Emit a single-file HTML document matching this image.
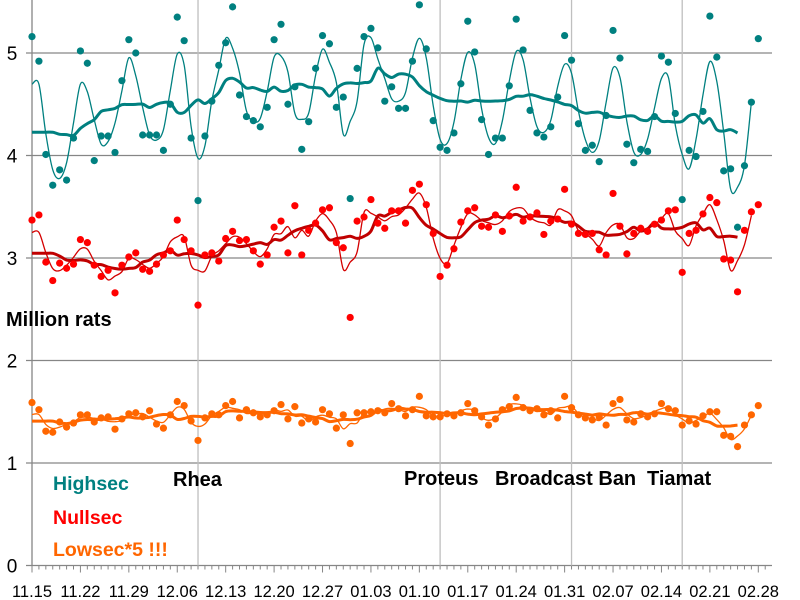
<!DOCTYPE html>
<html><head><meta charset="utf-8"><style>
html,body{margin:0;padding:0;background:#fff;}
svg{display:block;font-family:"Liberation Sans",sans-serif;}
</style></head><body>
<svg id="chart" width="800" height="600" viewBox="0 0 800 600" xmlns="http://www.w3.org/2000/svg">
<g id="grid"></g>
<g id="series"></g>
<g id="labels">
<text x="6" y="326" font-size="20" font-weight="bold" fill="#000">Million rats</text>
<text x="53" y="490" font-size="19.5" font-weight="bold" fill="#008080">Highsec</text>
<text x="53" y="524" font-size="19.5" font-weight="bold" fill="#ff0000">Nullsec</text>
<text x="53" y="556" font-size="19.5" font-weight="bold" fill="#ff6600">Lowsec*5 !!!</text>
<text x="173" y="486" font-size="20" font-weight="bold" fill="#000">Rhea</text>
<text x="404" y="485" font-size="20" font-weight="bold" fill="#000">Proteus</text>
<text x="495" y="485" font-size="20" font-weight="bold" fill="#000">Broadcast Ban</text>
<text x="647" y="485" font-size="20" font-weight="bold" fill="#000">Tiamat</text>
</g>
</svg>
<script>
const weekLabels=["11.15","11.22","11.29","12.06","12.13","12.20","12.27","01.03","01.10","01.17","01.24","01.31","02.07","02.14","02.21","02.28"];
const yTicks=[0,1,2,3,4,5];
const eventDays=[24,59,78,94];
const highsec=[5.16,4.92,4.01,3.71,3.86,3.76,4.17,5.02,4.90,3.95,4.19,4.19,4.03,4.73,5.13,5.00,4.20,4.20,4.20,4.05,4.50,5.35,5.12,4.17,3.56,4.19,4.53,4.88,5.10,5.45,4.59,4.38,4.34,4.28,4.47,5.13,5.28,4.50,4.67,4.06,4.33,4.85,5.17,5.09,4.47,4.57,3.58,4.85,5.16,5.24,5.05,4.53,4.67,4.46,4.46,4.92,5.47,5.04,4.34,4.08,4.05,4.22,4.70,5.31,5.01,4.35,4.01,4.17,4.17,4.68,5.33,5.03,4.44,4.22,4.18,4.28,4.57,5.17,4.93,4.31,4.05,4.10,3.94,4.39,5.22,4.95,4.11,3.93,4.06,4.04,4.38,4.97,4.91,4.41,3.57,4.05,3.99,4.43,5.36,4.96,3.85,3.87,3.30,3.90,4.52,5.14];
const nullsec=[3.37,3.42,2.96,2.78,2.95,2.90,2.94,3.18,3.15,2.93,2.82,2.88,2.66,2.93,3.01,3.05,2.89,2.87,2.94,3.03,3.07,3.37,3.18,3.07,2.54,3.03,3.05,2.97,3.19,3.26,3.17,3.18,3.07,2.94,3.03,3.30,3.36,3.05,3.51,3.03,3.27,3.34,3.47,3.49,3.15,3.10,2.42,3.36,3.40,3.57,3.34,3.29,3.46,3.46,3.34,3.66,3.72,3.52,3.24,2.82,2.93,3.09,3.35,3.46,3.49,3.31,3.30,3.42,3.26,3.41,3.69,3.36,3.40,3.44,3.23,3.36,3.38,3.67,3.33,3.24,3.23,3.24,3.08,3.03,3.63,3.31,3.04,3.24,3.29,3.26,3.33,3.37,3.46,3.47,2.86,3.24,3.27,3.43,3.59,3.54,2.99,2.98,2.67,3.27,3.45,3.52];
const lowsec=[1.59,1.52,1.31,1.30,1.40,1.35,1.39,1.47,1.47,1.40,1.44,1.45,1.33,1.43,1.48,1.49,1.45,1.51,1.38,1.34,1.47,1.60,1.56,1.41,1.22,1.44,1.48,1.47,1.56,1.60,1.44,1.52,1.49,1.45,1.47,1.51,1.57,1.43,1.55,1.39,1.43,1.40,1.52,1.48,1.34,1.47,1.19,1.49,1.49,1.50,1.51,1.49,1.58,1.53,1.46,1.52,1.65,1.46,1.45,1.45,1.48,1.46,1.49,1.58,1.51,1.45,1.37,1.43,1.52,1.55,1.64,1.54,1.51,1.53,1.47,1.51,1.44,1.65,1.54,1.47,1.44,1.42,1.45,1.37,1.58,1.62,1.42,1.40,1.48,1.45,1.48,1.58,1.53,1.51,1.37,1.41,1.38,1.46,1.50,1.50,1.27,1.26,1.16,1.37,1.47,1.56];

const NS="http://www.w3.org/2000/svg";
const X0=32, DAY=(758.3-32)/105, Y0=565.5, UNIT=102.5, XEND=772;
const xs=d=>X0+d*DAY;
const ys=v=>Y0-v*UNIT;
function mk(tag,attrs,parent){const e=document.createElementNS(NS,tag);for(const k in attrs)e.setAttribute(k,attrs[k]);parent.appendChild(e);return e;}
const grid=document.getElementById('grid');
const ser=document.getElementById('series');

yTicks.forEach(v=>{
  const l=mk('line',{x1:26,x2:XEND,y1:ys(v),y2:ys(v),stroke:'#868686','stroke-width':1.3},grid);
  
  
  const t=mk('text',{x:12,y:ys(v)+7,'font-size':19,'text-anchor':'middle',fill:'#000'},grid);
  t.textContent=v;
  
  
});
eventDays.forEach(d=>{
  const l=mk('line',{x1:xs(d),x2:xs(d),y1:0,y2:Y0,stroke:'#bfbfbf','stroke-width':1.3},grid);
  
  
});
const ax=mk('line',{x1:X0,x2:X0,y1:0,y2:Y0,stroke:'#868686','stroke-width':1.3},grid);


for(let d=0;d<=(XEND-X0)/DAY;d++){
  const major=d%7===0;
  const tk=mk('line',{x1:xs(d),x2:xs(d),y1:Y0,y2:Y0+(major?7:4),stroke:'#868686','stroke-width':1},grid);
  
  
}
weekLabels.forEach((s,i)=>{
  const t=mk('text',{x:xs(i*7),y:597,'font-size':16.5,'text-anchor':'middle',fill:'#000'},grid);
  t.textContent=s;
  
  
});

function ma(arr,i,h,lo,hi){let a=Math.max(lo,i-h),b=Math.min(hi,i+h);if(a===lo)b=Math.max(b,Math.min(hi,lo+2*h));let s=0;for(let k=a;k<=b;k++)s+=arr[k];return s/(b-a+1);}
function smoothPath(pts){
  let d='M'+pts[0][0].toFixed(1)+','+pts[0][1].toFixed(1);
  for(let i=0;i<pts.length-1;i++){
    const p0=pts[Math.max(0,i-1)],p1=pts[i],p2=pts[i+1],p3=pts[Math.min(pts.length-1,i+2)];
    const c1=[p1[0]+(p2[0]-p0[0])/6,p1[1]+(p2[1]-p0[1])/6];
    const c2=[p2[0]-(p3[0]-p1[0])/6,p2[1]-(p3[1]-p1[1])/6];
    d+='C'+c1[0].toFixed(1)+','+c1[1].toFixed(1)+' '+c2[0].toFixed(1)+','+c2[1].toFixed(1)+' '+p2[0].toFixed(1)+','+p2[1].toFixed(1);
  }
  return d;
}
function drawSeries(arr,name,dot,thin,thick){
  const n=arr.length;
  const thinPts=[];
  for(let i=0;i<=n-2;i++)thinPts.push([xs(i),ys(ma(arr,i,1,0,n-1))]);
  const thickPts=[];
  for(let i=0;i<=n-4;i++)thickPts.push([xs(i),ys(ma(arr,i,3,0,n-1))]);
  const p1=mk('path',{d:smoothPath(thinPts),fill:'none',stroke:thin,'stroke-width':1.3},ser);
  
  
  const p2=mk('path',{d:smoothPath(thickPts),fill:'none',stroke:thick,'stroke-width':3},ser);
  
  
  arr.forEach((v,i)=>{
    const c=mk('circle',{cx:xs(i),cy:ys(v),r:3.6,fill:dot},ser);
    
    
  });
}
drawSeries(lowsec,'lowsec','#ff6600','#ff6600','#ff6600');
drawSeries(nullsec,'nullsec','#ff0000','#d40000','#c00000');
drawSeries(highsec,'highsec','#008080','#008080','#008080');
</script>
</body></html>
